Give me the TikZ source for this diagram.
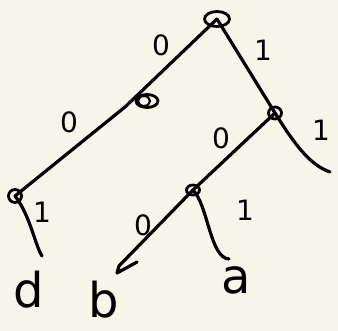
\documentclass[tikz,border=0pt]{standalone}
\usepackage{fontspec}
\setmainfont{DejaVu Sans}
\usetikzlibrary{shapes.geometric}
\definecolor{paper}{HTML}{F7F5EA}
\begin{document}
\begin{tikzpicture}[x=1pt,y=-1pt,
  edge/.style={line width=3.2pt,line cap=round,line join=round},
  vtx/.style={draw,line width=2.8pt,ellipse,inner sep=0pt},
  lbl/.style={font=\fontsize{28}{28}\selectfont},
  leaf/.style={font=\fontsize{48}{48}\selectfont}]
\fill[paper] (0,0) rectangle (338,331);
\useasboundingbox (0,0) rectangle (338,331);
\node[vtx,minimum width=25pt,minimum height=15pt] (root) at (217,19) {};
\node[vtx,minimum width=22pt,minimum height=13pt] (mid) at (147,101) {};
\draw[line width=2.2pt] (mid.center) ++(-3,0) ellipse (6pt and 5pt);
\coordinate (midl) at (125,107);
\node[vtx,minimum width=13pt,minimum height=13pt] (left) at (15,196) {};
\node[vtx,minimum width=13pt,minimum height=12pt] (R) at (275,113) {};
\node[vtx,minimum width=13pt,minimum height=10pt] (B) at (193,190) {};
\coordinate (rend) at (330,172);
\coordinate (dend) at (42,256);
\coordinate (bend) at (117,273);
\coordinate (aend) at (229,259);
\draw[edge] (root.center) -- (midl);
\draw[edge] (midl) -- (left.center);
\draw[edge] (root.center) -- (R.center);
\draw[edge] (R.center) -- (B.center);
\draw[edge] (R.center) .. controls (295,145) and (310,165) .. (rend);
\draw[edge] (left.center) .. controls (30,215) and (35,245) .. (dend);
\draw[edge] (B.center) -- (119,266) -- (bend) -- (137,262);
\draw[edge] (B.center) .. controls (208,205) and (210,258) .. (aend);
\node[lbl] (l1) at (161,45) {0};
\node[lbl] (l2) at (263,50) {1};
\node[lbl] (l3) at (69,122) {0};
\node[lbl] (l4) at (221,138) {0};
\node[lbl] (l5) at (321,130) {1};
\node[lbl] (l6) at (42,212) {1};
\node[lbl] (l7) at (143,225) {0};
\node[lbl] (l8) at (245,210) {1};
\node[leaf] (d) at (29,290) {d};
\node[leaf] (b) at (104,300) {b};
\node[leaf] (a) at (236,280) {a};
\end{tikzpicture}
\end{document}
